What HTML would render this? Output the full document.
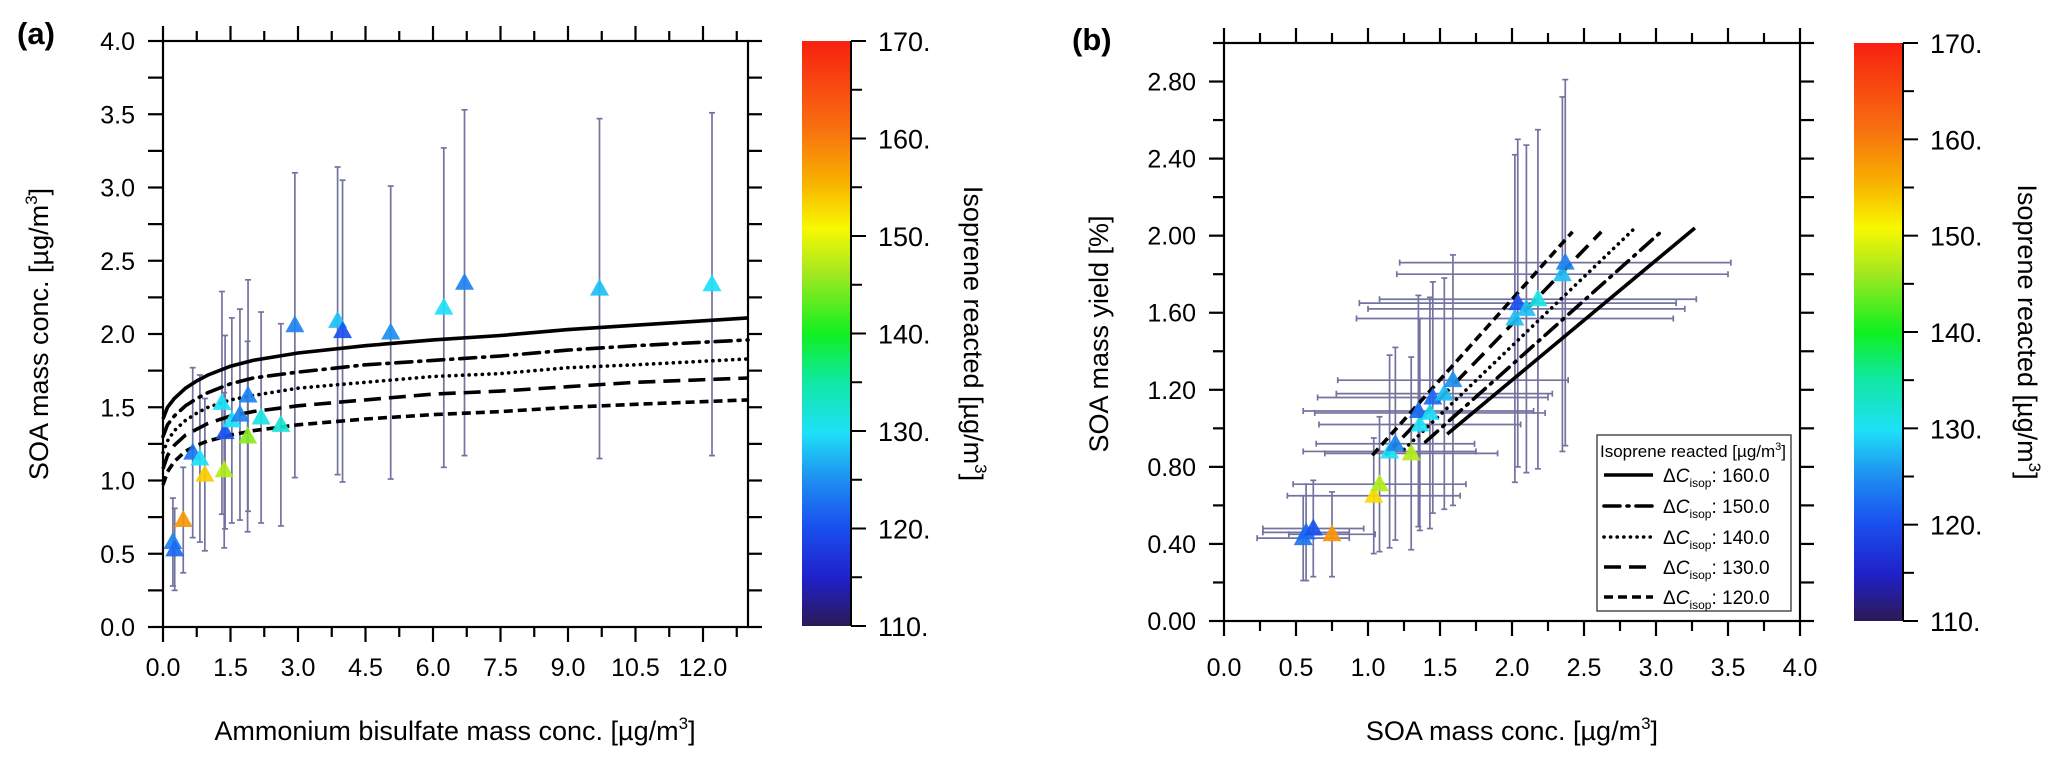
<!DOCTYPE html>
<html><head><meta charset="utf-8">
<style>
html,body{margin:0;padding:0;background:#fff;}
svg{display:block;font-family:"Liberation Sans",Arial,sans-serif;}
</style></head>
<body>
<svg id="fig" width="2067" height="764" viewBox="0 0 2067 764" xmlns="http://www.w3.org/2000/svg">
<defs>
<linearGradient id="jet" x1="0" y1="1" x2="0" y2="0">
<stop offset="0" stop-color="#2b1a55"/>
<stop offset="0.08" stop-color="#2020c8"/>
<stop offset="0.17" stop-color="#1a50f0"/>
<stop offset="0.25" stop-color="#1e8ef0"/>
<stop offset="0.33" stop-color="#1ee0f8"/>
<stop offset="0.42" stop-color="#10e8a0"/>
<stop offset="0.5" stop-color="#10f020"/>
<stop offset="0.6" stop-color="#a0e820"/>
<stop offset="0.68" stop-color="#f8f800"/>
<stop offset="0.76" stop-color="#f8b000"/>
<stop offset="0.85" stop-color="#f87010"/>
<stop offset="1" stop-color="#f82010"/>
</linearGradient>
</defs>
<g id="root"></g>
</svg>
<script>
// ---------- Panel (a) data ----------
const aX = [0.22,0.26,0.45,0.66,0.82,0.93,1.31,1.36,1.38,1.53,1.71,1.89,1.88,2.18,2.62,2.93,3.88,3.99,5.06,6.24,6.70,9.7,12.2];
const aY = [0.58,0.53,0.73,1.19,1.15,1.04,1.53,1.07,1.33,1.41,1.45,1.58,1.30,1.43,1.38,2.06,2.09,2.02,2.01,2.18,2.35,2.31,2.34];
const aC = [124,122,158,123,130,154,130,147,120,130,124,124,145,131,132,124,128,120,125,130,124,128,130];
const aErr = [0.30,0.28,0.36,0.58,0.57,0.52,0.76,0.53,0.66,0.70,0.72,0.79,0.65,0.72,0.69,1.04,1.05,1.03,1.00,1.09,1.18,1.16,1.17];
const curveX = [0,0.1,0.25,0.5,0.75,1,1.5,2,3,4.5,6,7.5,9,10.5,13];
const curve160 = [1.42,1.50,1.56,1.63,1.68,1.72,1.78,1.82,1.87,1.92,1.96,1.99,2.03,2.06,2.11];
const curve150 = [1.30,1.38,1.44,1.51,1.56,1.60,1.66,1.70,1.74,1.79,1.82,1.85,1.89,1.92,1.96];
const curve140 = [1.19,1.27,1.34,1.41,1.46,1.50,1.55,1.58,1.63,1.67,1.71,1.73,1.77,1.79,1.83];
const curve130 = [1.08,1.17,1.24,1.31,1.35,1.39,1.44,1.47,1.51,1.55,1.59,1.61,1.64,1.67,1.70];
const curve120 = [0.97,1.06,1.13,1.20,1.24,1.27,1.31,1.34,1.38,1.42,1.45,1.47,1.50,1.52,1.55];
const aXTicks = ["0.0","1.5","3.0","4.5","6.0","7.5","9.0","10.5","12.0"];
const aYTicks = ["0.0","0.5","1.0","1.5","2.0","2.5","3.0","3.5","4.0"];
// ---------- Panel (b) data ----------
const bX = [0.55,0.57,0.62,0.75,1.04,1.08,1.15,1.19,1.30,1.36,1.35,1.43,1.45,1.53,1.59,2.02,2.04,2.10,2.18,2.35,2.37];
const bY = [0.43,0.46,0.48,0.45,0.65,0.71,0.88,0.92,0.87,1.02,1.09,1.08,1.16,1.18,1.25,1.57,1.65,1.62,1.67,1.80,1.86];
const bC = [123,122,120,158,153,147,130,124,147,130,122,130,122,128,125,128,120,128,131,128,124];
const bXErr = [0.32,0.30,0.35,0.30,0.60,0.60,0.60,0.55,0.60,0.70,0.80,0.80,0.80,0.75,0.80,1.10,1.10,1.10,1.10,1.15,1.15];
const bYErr = [0.22,0.25,0.25,0.22,0.30,0.35,0.50,0.50,0.50,0.55,0.60,0.60,0.60,0.60,0.65,0.85,0.85,0.85,0.88,0.92,0.95];
const lineDC = [160,150,140,130,120];
const lineStartX = [1.55,1.40,1.25,1.12,1.03];
const lineEndX = [3.27,3.05,2.84,2.62,2.42];
const lineStartY = [0.97,0.93,0.89,0.86,0.86];
const lineEndY = [2.04,2.03,2.03,2.02,2.02];
const bXTicks = ["0.0","0.5","1.0","1.5","2.0","2.5","3.0","3.5","4.0"];
const bYTicks = ["0.00","0.40","0.80","1.20","1.60","2.00","2.40","2.80"];
const cbTicks = ["110.","120.","130.","140.","150.","160.","170."];

const NS="http://www.w3.org/2000/svg";
const root=document.getElementById('root');
function mk(tag,attrs,parent){const e=document.createElementNS(NS,tag);for(const k in attrs)e.setAttribute(k,attrs[k]);(parent||root).appendChild(e);return e;}
function txt(s,attrs,parent){const e=mk('text',attrs,parent);e.textContent=s;return e;}

const dashes=["none","16 7 2 7","0.1 6.5","17 8","9 5"];
const caps=["butt","round","round","butt","butt"];

const stops=[[110,[43,26,85]],[115,[32,32,200]],[120,[26,80,240]],[125,[30,142,240]],[130,[30,224,248]],[135,[16,232,160]],[140,[16,240,32]],[146,[160,232,32]],[151,[248,248,0]],[156,[248,176,0]],[161,[248,112,16]],[170,[248,32,16]]];
function cmap(v){for(let i=0;i<stops.length-1;i++){const a=stops[i],b=stops[i+1];if(v<=b[0]){const t=Math.max(0,(v-a[0])/(b[0]-a[0]));return 'rgb('+a[1].map((c,j)=>Math.round(c+(b[1][j]-c)*t)).join(',')+')';}}return 'rgb(248,32,16)';}

function tri(g,x,y,col){const p=mk('path',{d:`M${x},${y-10} L${x+9.5},${y+7} L${x-9.5},${y+7} Z`,fill:col,opacity:0.92},g);return p;}

// ===== Panel A =====
const A={l:163,r:748,t:41,b:627,xmax:13,ymax:4};
const ax=v=>A.l+v/A.xmax*(A.r-A.l), ay=v=>A.b-v/A.ymax*(A.b-A.t);
const gA=mk('g',{});


txt('(a)',{x:17,y:44,'font-size':31,'font-weight':'bold'},gA);

const gAE=mk('g',{stroke:'#7373a0','stroke-width':1.7},gA);


aX.forEach((x,i)=>{const px=ax(x),y1=ay(aY[i]+aErr[i]),y2=ay(Math.max(0,aY[i]-aErr[i]));
 mk('line',{x1:px,x2:px,y1:y1,y2:y2},gAE);mk('line',{x1:px-3,x2:px+3,y1:y1,y2:y1},gAE);mk('line',{x1:px-3,x2:px+3,y1:y2,y2:y2},gAE);});
const gAC=mk('g',{fill:'none',stroke:'#000','stroke-width':3.6},gA);


[curve160,curve150,curve140,curve130,curve120].forEach((c,k)=>{
 const d=curveX.map((x,i)=>(i?'L':'M')+ax(x).toFixed(1)+','+ay(c[i]).toFixed(1)).join(' ');
 const p=mk('path',{d:d,'stroke-dasharray':dashes[k],'stroke-linecap':caps[k]},gAC);
 
});
const gAP=mk('g',{},gA);


aX.forEach((x,i)=>{const t=tri(gAP,ax(x),ay(aY[i]),cmap(aC[i]));
 
 });
const gAA=mk('g',{stroke:'#000','stroke-width':2.2},gA);


mk('rect',{x:A.l,y:A.t,width:A.r-A.l,height:A.b-A.t,fill:'none'},gAA);
for(let v=0;v<=13.001;v+=0.75){const px=ax(v);const maj=Math.abs(v/1.5-Math.round(v/1.5))<1e-6;const L=maj?15:10;
 mk('line',{x1:px,x2:px,y1:A.b,y2:A.b+L},gAA);mk('line',{x1:px,x2:px,y1:A.t,y2:A.t-L},gAA);}
for(let v=0;v<=4.001;v+=0.25){const py=ay(v);mk('line',{x1:A.l-15,x2:A.l,y1:py,y2:py},gAA);mk('line',{x1:A.r,x2:A.r+14,y1:py,y2:py},gAA);}
aXTicks.forEach((s,i)=>{const t=txt(s,{x:ax(i*1.5),y:676,'font-size':25,'text-anchor':'middle'},gA);});
aYTicks.forEach((s,i)=>{const t=txt(s,{x:135,y:ay(i*0.5)+9,'font-size':25,'text-anchor':'end'},gA);});
const axt=txt('',{x:455,y:740,'font-size':27,'text-anchor':'middle'},gA);axt.innerHTML='Ammonium bisulfate mass conc. [µg/m<tspan dy="-11" font-size="17">3</tspan><tspan dy="11">]</tspan>';

const ayt=txt('',{x:0,y:0,'font-size':27,'text-anchor':'middle',transform:'translate(48,334) rotate(-90)'},gA);ayt.innerHTML='SOA mass conc. [µg/m<tspan dy="-11" font-size="17">3</tspan><tspan dy="11">]</tspan>';


// ===== Colorbars =====
function colorbar(x0,top,bot,titleX,name){
 const g=mk('g',{});
 
 
 mk('rect',{x:x0,y:top,width:49,height:bot-top,fill:'url(#jet)'},g);
 mk('line',{x1:x0+49,x2:x0+49,y1:top,y2:bot,stroke:'#000','stroke-width':2},g);
 const cy=v=>bot-(v-110)/60*(bot-top);
 for(let v=110;v<=170;v+=5){const maj=v%10===0;mk('line',{x1:x0+49,x2:x0+49+(maj?15:11),y1:cy(v),y2:cy(v),stroke:'#000','stroke-width':2},g);}
 cbTicks.forEach((s,i)=>{const t=txt(s,{x:x0+76,y:cy(110+i*10)+10,'font-size':27},g);});
 const t=txt('',{x:0,y:0,'font-size':27,'text-anchor':'middle',transform:`translate(${titleX},${(top+bot)/2}) rotate(90)`},g);
 t.innerHTML='Isoprene reacted [µg/m<tspan dy="-11" font-size="17">3</tspan><tspan dy="11">]</tspan>';
 
}
colorbar(802,41,626,964,'colorbar-a');
colorbar(1854,43,621,2018,'colorbar-b');

// ===== Panel B =====
const B={l:1224,r:1800,t:43,b:621,xmax:4,ymax:3};
const bx=v=>B.l+v/B.xmax*(B.r-B.l), by=v=>B.b-v/B.ymax*(B.b-B.t);
const gB=mk('g',{});


txt('(b)',{x:1072,y:50,'font-size':31,'font-weight':'bold'},gB);
const gBE=mk('g',{stroke:'#7373a0','stroke-width':1.7},gB);


bX.forEach((x,i)=>{const px=bx(x),py=by(bY[i]);const y1=by(bY[i]+bYErr[i]),y2=by(bY[i]-bYErr[i]);const x1=bx(x-bXErr[i]),x2=bx(x+bXErr[i]);
 mk('line',{x1:px,x2:px,y1:y1,y2:y2},gBE);mk('line',{x1:px-3,x2:px+3,y1:y1,y2:y1},gBE);mk('line',{x1:px-3,x2:px+3,y1:y2,y2:y2},gBE);
 mk('line',{x1:x1,x2:x2,y1:py,y2:py},gBE);mk('line',{x1:x1,x2:x1,y1:py-3,y2:py+3},gBE);mk('line',{x1:x2,x2:x2,y1:py-3,y2:py+3},gBE);});
const gBL=mk('g',{fill:'none',stroke:'#000','stroke-width':3.6},gB);


lineDC.forEach((dc,k)=>{const l=mk('line',{x1:bx(lineStartX[k]),y1:by(lineStartY[k]),x2:bx(lineEndX[k]),y2:by(lineEndY[k]),'stroke-dasharray':dashes[k],'stroke-linecap':caps[k]},gBL);
 });
const gBP=mk('g',{},gB);


bX.forEach((x,i)=>{const t=tri(gBP,bx(x),by(bY[i]),cmap(bC[i]));
 
 });
const gBA=mk('g',{stroke:'#000','stroke-width':2.2},gB);


mk('rect',{x:B.l,y:B.t,width:B.r-B.l,height:B.b-B.t,fill:'none'},gBA);
for(let v=0;v<=4.001;v+=0.25){const px=bx(v);const maj=Math.abs(v*2-Math.round(v*2))<1e-6;const L=maj?15:10;
 mk('line',{x1:px,x2:px,y1:B.b,y2:B.b+L},gBA);mk('line',{x1:px,x2:px,y1:B.t,y2:B.t-L},gBA);}
for(let v=0;v<=3.001;v+=0.2){const py=by(v);const maj=Math.abs(v/0.4-Math.round(v/0.4))<1e-6;
 mk('line',{x1:B.l-(maj?15:11),x2:B.l,y1:py,y2:py},gBA);mk('line',{x1:B.r,x2:B.r+14,y1:py,y2:py},gBA);}
bXTicks.forEach((s,i)=>{const t=txt(s,{x:bx(i*0.5),y:676,'font-size':25,'text-anchor':'middle'},gB);});
bYTicks.forEach((s,i)=>{const t=txt(s,{x:1196,y:by(i*0.4)+9,'font-size':25,'text-anchor':'end'},gB);});
const bxt=txt('',{x:1512,y:740,'font-size':27,'text-anchor':'middle'},gB);bxt.innerHTML='SOA mass conc. [µg/m<tspan dy="-11" font-size="17">3</tspan><tspan dy="11">]</tspan>';

const byt=txt('SOA mass yield [%]',{x:0,y:0,'font-size':27,'text-anchor':'middle',transform:'translate(1108,334) rotate(-90)'},gB);


// legend
const gL=mk('g',{},gB);


mk('rect',{x:1597,y:435,width:194,height:176,fill:'#fff',stroke:'#333','stroke-width':1.3},gL);
const lt=txt('',{x:1600,y:457,'font-size':17},gL);lt.innerHTML='Isoprene reacted [µg/m<tspan dy="-7" font-size="11">3</tspan><tspan dy="7">]</tspan>';

const rowY=[475,506,537,567,597];
lineDC.forEach((dc,k)=>{const g=mk('g',{},gL);
 
 
 mk('line',{x1:1604,x2:1653,y1:rowY[k],y2:rowY[k],stroke:'#000','stroke-width':3.6,'stroke-dasharray':dashes[k],'stroke-linecap':caps[k]},g);
 const t=txt('',{x:1663,y:rowY[k]+7,'font-size':19},g);
 t.innerHTML='Δ<tspan font-style="italic">C</tspan><tspan dy="5" font-size="12">isop</tspan><tspan dy="-5">:  '+dc.toFixed(1)+'</tspan>';});
</script>
</body></html>
